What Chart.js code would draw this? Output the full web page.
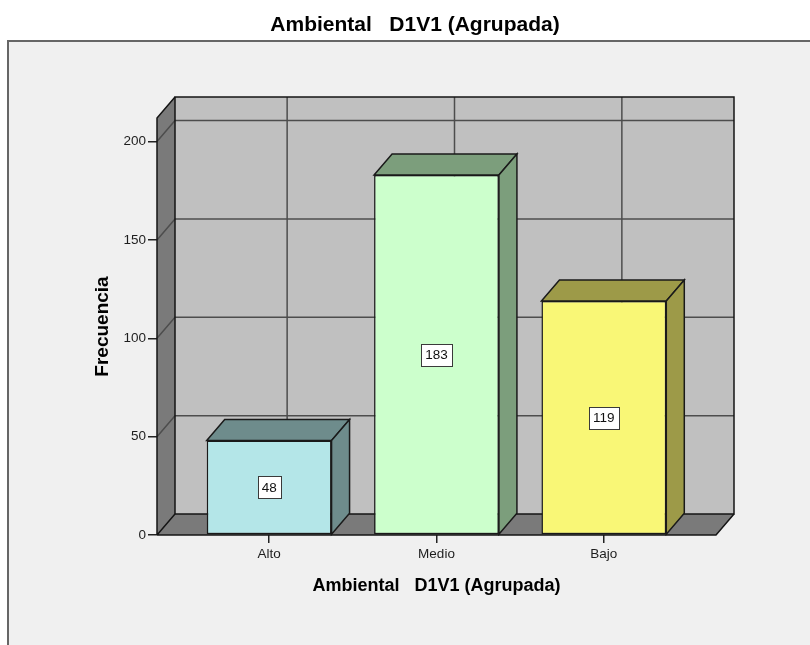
<!DOCTYPE html>
<html>
<head>
<meta charset="utf-8">
<script src="https://cdn.jsdelivr.net/npm/chart.js@4.4.1/dist/chart.umd.min.js"></script>
<style>
  html, body { margin: 0; padding: 0; background: #ffffff; }
  #wrap { width: 810px; height: 645px; }
</style>
</head>
<body>
<div id="wrap"><canvas id="c" width="810" height="645"></canvas></div>
<script>
// ---- data ----
const categories = ['Alto', 'Medio', 'Bajo'];
const frequencies = [48, 183, 119];
const yTickValues = [0, 50, 100, 150, 200];
const chartTitle = 'Ambiental   D1V1 (Agrupada)';
const xAxisTitle = 'Ambiental   D1V1 (Agrupada)';
const yAxisTitle = 'Frecuencia';

// ---- styles ----
const frontColors = ['#b4e6e8', '#ccffcc', '#f9f776'];
const sideColors = ['#6e8c8c', '#7c9e7c', '#9d9a48'];
const DX = 18, DY = -21;               // 3D depth offset
const FONT = "'Liberation Sans', Arial, sans-serif";

function poly(c, pts, fill, stroke, lw) {
  c.beginPath();
  c.moveTo(pts[0][0], pts[0][1]);
  for (let i = 1; i < pts.length; i++) c.lineTo(pts[i][0], pts[i][1]);
  c.closePath();
  if (fill) { c.fillStyle = fill; c.fill(); }
  if (stroke) { c.strokeStyle = stroke; c.lineWidth = lw || 1.5; c.stroke(); }
}

const frame3d = {
  id: 'frame3d',
  beforeDraw(chart) {
    const c = chart.ctx;
    c.save();
    c.fillStyle = '#ffffff';
    c.fillRect(0, 0, chart.width, chart.height);
    c.fillStyle = '#f0f0f0';
    c.fillRect(8, 41, chart.width - 8, chart.height - 41);
    c.strokeStyle = '#666666';
    c.lineWidth = 2;
    c.beginPath();
    c.moveTo(8, chart.height);
    c.lineTo(8, 41);
    c.lineTo(chart.width, 41);
    c.stroke();
    c.restore();
  },
  beforeDatasetsDraw(chart) {
    const c = chart.ctx;
    const xs = chart.scales.x, ys = chart.scales.y;
    const L = chart.chartArea.left, R = chart.chartArea.right;
    const T = ys.getPixelForValue(ys.max), B = ys.getPixelForValue(0);
    c.save();
    c.lineJoin = 'miter';
    // back wall
    c.fillStyle = '#c0c0c0';
    c.fillRect(L + DX, T + DY, R - L, B - T);
    // left wall & floor
    poly(c, [[L, T], [L + DX, T + DY], [L + DX, B + DY], [L, B]], '#7a7a7a');
    poly(c, [[L, B], [L + DX, B + DY], [R + DX, B + DY], [R, B]], '#7a7a7a');
    // grid lines
    c.strokeStyle = '#4d4d4d';
    c.lineWidth = 1.5;
    ys.ticks.forEach(t => {
      if (t.value === 0) return;
      const py = ys.getPixelForValue(t.value);
      c.beginPath();
      c.moveTo(L, py);
      c.lineTo(L + DX, py + DY);
      c.lineTo(R + DX, py + DY);
      c.stroke();
    });
    xs.ticks.forEach(t => {
      const px = xs.getPixelForValue(t.value);
      c.beginPath();
      c.moveTo(px + DX, T + DY);
      c.lineTo(px + DX, B + DY);
      c.stroke();
    });
    // edges
    c.strokeStyle = '#141414';
    c.lineWidth = 1.5;
    c.strokeRect(L + DX, T + DY, R - L, B - T);
    c.beginPath();
    c.moveTo(L, B); c.lineTo(L, T); c.lineTo(L + DX, T + DY);
    c.moveTo(L, B); c.lineTo(L + DX, B + DY);
    c.moveTo(L, B); c.lineTo(R, B); c.lineTo(R + DX, B + DY);
    c.stroke();
    c.restore();
  },
  afterDatasetsDraw(chart) {
    const c = chart.ctx;
    const meta = chart.getDatasetMeta(0);
    c.save();
    c.lineJoin = 'miter';
    meta.data.forEach((bar, i) => {
      const p = bar.getProps(['x', 'y', 'base', 'width'], true);
      const l = p.x - p.width / 2, r = p.x + p.width / 2;
      poly(c, [[l, p.y], [l + DX, p.y + DY], [r + DX, p.y + DY], [r, p.y]], sideColors[i], '#1a1a1a', 1.5);
      poly(c, [[r, p.y], [r + DX, p.y + DY], [r + DX, p.base + DY], [r, p.base]], sideColors[i], '#1a1a1a', 1.5);
    });
    // value labels
    c.font = '13.5px ' + FONT;
    c.textAlign = 'center';
    c.textBaseline = 'middle';
    meta.data.forEach((bar, i) => {
      const p = bar.getProps(['x', 'y', 'base'], true);
      const txt = String(frequencies[i]);
      const cy = (p.y + p.base) / 2;
      const w = Math.round(c.measureText(txt).width + 8), h = 22;
      const bx = Math.round(p.x - w / 2) + 0.5, by = Math.round(cy - h / 2) + 0.5;
      c.fillStyle = '#ffffff';
      c.fillRect(bx, by, w, h);
      c.strokeStyle = '#3a3a3a';
      c.lineWidth = 1;
      c.strokeRect(bx, by, w, h);
      c.fillStyle = '#111111';
      c.fillText(txt, p.x, cy + 1);
    });
    c.restore();
  }
};

const chart = new Chart(document.getElementById('c'), {
  type: 'bar',
  data: {
    datasets: [{
      data: frequencies.map((v, i) => ({ x: i + 1, y: v })),
      backgroundColor: frontColors,
      borderColor: '#1a1a1a',
      borderWidth: 1.5,
      borderSkipped: false,
      categoryPercentage: 1,
      barPercentage: 0.746
    }]
  },
  options: {
    responsive: false,
    animation: false,
    devicePixelRatio: 1,
    layout: { padding: { left: 20, right: 0, top: 0, bottom: 0 } },
    plugins: {
      legend: { display: false },
      tooltip: { enabled: false },
      title: {
        display: true,
        text: chartTitle,
        color: '#000000',
        font: { family: FONT, size: 21, weight: 'bold', lineHeight: 1.2 },
        padding: { top: 12.4, bottom: 80.4 }
      }
    },
    scales: {
      x: {
        type: 'linear',
        min: 0.33,
        max: 3.67,
        offset: false,
        afterBuildTicks: s => { s.ticks = categories.map((c, i) => ({ value: i + 1 })); },
        afterFit: s => { s.height = 110; },
        ticks: {
          callback: (v, i) => categories[i],
          autoSkip: false,
          maxRotation: 0,
          padding: 3,
          color: '#1e1e1e',
          font: { family: FONT, size: 13.5 }
        },
        grid: { display: true, offset: false, drawOnChartArea: false, drawTicks: true, tickLength: 8, color: '#222222', lineWidth: 1.5 },
        border: { display: false },
        title: {
          display: true,
          text: xAxisTitle,
          color: '#000000',
          font: { family: FONT, size: 18, weight: 'bold', lineHeight: 1.2 },
          padding: { top: 0, bottom: 48.2 }
        }
      },
      y: {
        min: 0,
        max: 212,
        afterBuildTicks: s => { s.ticks = yTickValues.map(v => ({ value: v })); },
        afterFit: s => { s.width = 137; },
        ticks: {
          padding: 2,
          color: '#1e1e1e',
          font: { family: FONT, size: 13.5 }
        },
        grid: { display: true, drawOnChartArea: false, drawTicks: true, tickLength: 9, color: '#222222', lineWidth: 1.5 },
        border: { display: false },
        title: {
          display: true,
          text: yAxisTitle,
          color: '#000000',
          font: { family: FONT, size: 19, weight: 'bold', lineHeight: 1.2 },
          padding: { top: 71.6, bottom: 0 }
        }
      },
      yRightSpace: {
        position: 'right',
        display: true,
        afterFit: s => { s.width = 94; },
        ticks: { display: false },
        grid: { display: false },
        border: { display: false }
      }
    }
  },
  plugins: [frame3d]
});
</script>
</body>
</html>
